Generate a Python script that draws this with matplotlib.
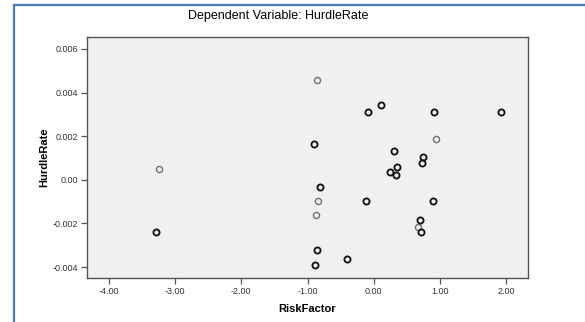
import numpy as np
import matplotlib
matplotlib.use("Agg")
from matplotlib import pyplot as plt
from matplotlib.lines import Line2D

# data (RiskFactor vs HurdleRate)
risk_factor = [-3.25, -3.29, -0.86, -0.09, 0.11, 0.91, 1.92, 0.94, -0.90, 0.30,
               0.75, 0.73, 0.35, 0.245, 0.335, -0.81, -0.84, -0.12, 0.89, -0.87,
               0.70, 0.67, 0.71, -0.86, -0.40, -0.89]
hurdle_rate = [0.00051, -0.00239, 0.00460, 0.00313, 0.00345, 0.00313, 0.00313, 0.00189,
               0.00166, 0.00133, 0.00107, 0.00078, 0.00058, 0.00037, 0.00023, -0.00032,
               -0.00097, -0.00097, -0.00097, -0.00161, -0.00184, -0.00216, -0.00239,
               -0.00322, -0.00363, -0.00391]
# light = single case, dark = overlapping cases
dark = [0, 1, 0, 1, 1, 1, 1, 0, 1, 1,
        1, 1, 1, 1, 1, 1, 0, 1, 1, 0,
        1, 0, 1, 1, 1, 1]

x_ticks = [-4.0, -3.0, -2.0, -1.0, 0.0, 1.0, 2.0]
y_ticks = [-0.004, -0.002, 0.0, 0.002, 0.004, 0.006]
y_tick_labels = ["-0.004", "-0.002", "0.00", "0.002", "0.004", "0.006"]

plt.rcParams['font.family'] = ['Liberation Sans', 'DejaVu Sans']

W, H = 585, 322
fig = plt.figure(figsize=(W / 100, H / 100), dpi=100)
fig.patch.set_facecolor("white")

# blue frame lines on top and left
border = "#4a7ebb"
fig.add_artist(Line2D([14 / W, 1], [1 - 5 / H, 1 - 5 / H], color=border, lw=1.6))
fig.add_artist(Line2D([14 / W, 14 / W], [0, 1 - 5 / H], color=border, lw=1.6))

ax = fig.add_axes([87 / W, 1 - 278 / H, (528 - 87) / W, (278 - 37) / H])
ax.set_facecolor("#f0f0f0")

x = np.array(risk_factor)
y = np.array(hurdle_rate)
d = np.array(dark, dtype=bool)
ax.plot(x[~d], y[~d], 'o', ms=4.4, mfc='none', mec='#707070', mew=1.0)
ax.plot(x[d], y[d], 'o', ms=4.4, mfc='none', mec='#151515', mew=1.35)

ax.set_xlim(-4.33, 2.33)
ax.set_ylim(-0.0045, 0.00655)
ax.set_xticks(x_ticks)
ax.set_xticklabels(["%.2f" % v for v in x_ticks])
ax.set_yticks(y_ticks)
ax.set_yticklabels(y_tick_labels)
ax.tick_params(labelsize=6.5, labelcolor="#333333", length=4, width=0.9,
               color="#555555", pad=2.5)
for s in ax.spines.values():
    s.set_color("#555555")
    s.set_linewidth(1.0)

ax.set_xlabel("RiskFactor", fontsize=8, fontweight="bold", labelpad=6)
ax.set_ylabel("HurdleRate", fontsize=8, fontweight="bold", labelpad=2)

fig.text(278 / W, 1 - 16 / H, "Dependent Variable: HurdleRate", ha="center",
         va="center", fontsize=9)

fig.savefig("out.png", dpi=100)
